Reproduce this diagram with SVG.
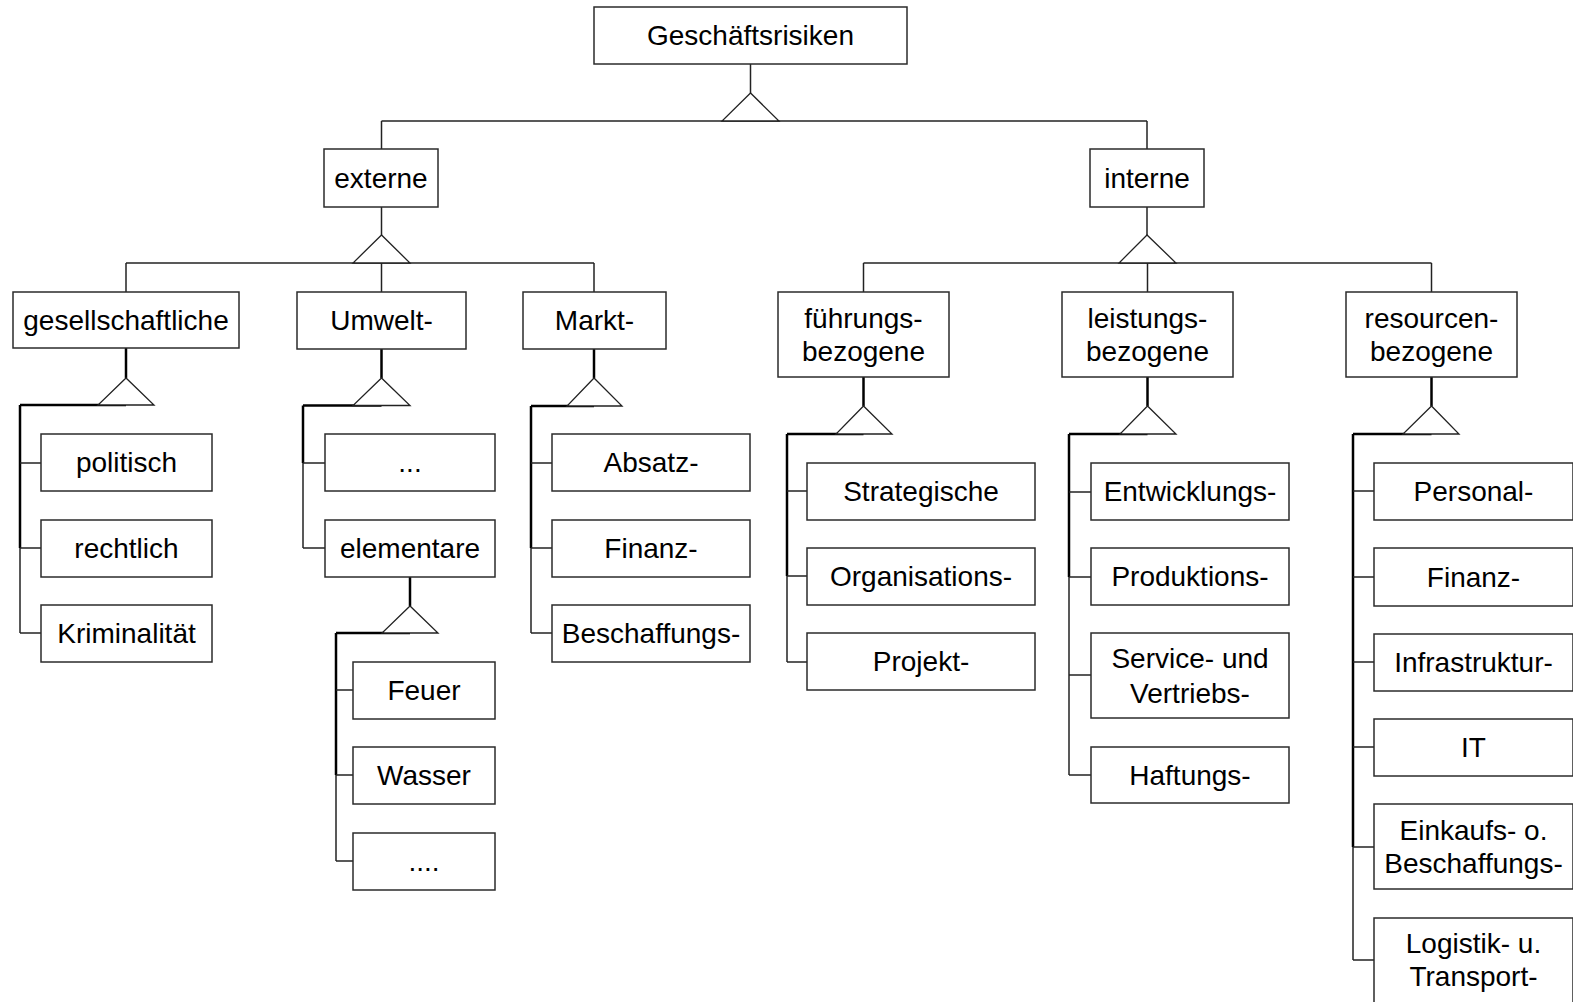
<svg xmlns="http://www.w3.org/2000/svg" width="1573" height="1002" viewBox="0 0 1573 1002">
  <style>
    .box { fill: #ffffff; stroke: #2b2b2b; stroke-width: 1.5; }
    .lbl { font-family: "Liberation Sans", Arial, sans-serif; font-size: 28px; fill: #000000; text-anchor: middle; }
    .ln { stroke: #222222; stroke-width: 1.5; fill: none; }
    .thick { stroke: #000000; stroke-width: 2.5; fill: none; }
    .tri { fill: #ffffff; stroke: #222222; stroke-width: 1.3; stroke-linejoin: miter; }
  </style>
  <rect x="0" y="0" width="1573" height="1002" fill="#ffffff"/>

  <!-- connectors -->
  <g id="connectors">
    <!-- root to first level -->
    <line class="ln" x1="750.5" y1="64" x2="750.5" y2="93"/>
    <line class="ln" x1="381.5" y1="121" x2="1147" y2="121"/>
    <line class="ln" x1="381.5" y1="121" x2="381.5" y2="149"/>
    <line class="ln" x1="1147" y1="121" x2="1147" y2="149"/>
    <polygon class="tri" points="750.5,93 722,121 779,121"/>

    <!-- externe to second level -->
    <line class="ln" x1="381.5" y1="207" x2="381.5" y2="235"/>
    <line class="ln" x1="126" y1="263" x2="594" y2="263"/>
    <line class="ln" x1="126" y1="263" x2="126" y2="292"/>
    <line class="ln" x1="381.5" y1="263" x2="381.5" y2="292"/>
    <line class="ln" x1="594" y1="263" x2="594" y2="292"/>
    <polygon class="tri" points="381.5,235 353,263 410,263"/>

    <!-- interne to second level -->
    <line class="ln" x1="1147" y1="207" x2="1147" y2="235"/>
    <line class="ln" x1="863.5" y1="263" x2="1431.5" y2="263"/>
    <line class="ln" x1="863.5" y1="263" x2="863.5" y2="292"/>
    <line class="ln" x1="1147.5" y1="263" x2="1147.5" y2="292"/>
    <line class="ln" x1="1431.5" y1="263" x2="1431.5" y2="292"/>
    <polygon class="tri" points="1147,235 1119,263 1176,263"/>

    <!-- gesellschaftliche -->
    <line class="thick" x1="126" y1="348" x2="126" y2="378"/>
    <line class="thick" x1="20" y1="405" x2="126" y2="405"/>
    <line class="thick" x1="20" y1="405" x2="20" y2="548"/>
    <line class="ln" x1="20" y1="548" x2="20" y2="633"/>
    <line class="ln" x1="20" y1="463" x2="41" y2="463"/>
    <line class="ln" x1="20" y1="548" x2="41" y2="548"/>
    <line class="ln" x1="20" y1="633" x2="41" y2="633"/>
    <polygon class="tri" points="126,378 98,405 154,405"/>

    <!-- Umwelt -->
    <line class="thick" x1="381.5" y1="349" x2="381.5" y2="378"/>
    <line class="thick" x1="303" y1="405.5" x2="381.5" y2="405.5"/>
    <line class="thick" x1="303" y1="405.5" x2="303" y2="463"/>
    <line class="ln" x1="303" y1="463" x2="303" y2="548"/>
    <line class="ln" x1="303" y1="463" x2="325" y2="463"/>
    <line class="ln" x1="303" y1="548" x2="325" y2="548"/>
    <polygon class="tri" points="381.5,378 353,405.5 410,405.5"/>

    <!-- elementare -->
    <line class="thick" x1="410" y1="577" x2="410" y2="606"/>
    <line class="thick" x1="336" y1="633" x2="410" y2="633"/>
    <line class="thick" x1="336" y1="633" x2="336" y2="775"/>
    <line class="ln" x1="336" y1="775" x2="336" y2="861"/>
    <line class="ln" x1="336" y1="690" x2="353" y2="690"/>
    <line class="ln" x1="336" y1="775" x2="353" y2="775"/>
    <line class="ln" x1="336" y1="861" x2="353" y2="861"/>
    <polygon class="tri" points="410,606 382,633 438,633"/>

    <!-- Markt -->
    <line class="thick" x1="594" y1="349" x2="594" y2="378"/>
    <line class="thick" x1="531" y1="406" x2="594" y2="406"/>
    <line class="thick" x1="531" y1="406" x2="531" y2="548"/>
    <line class="ln" x1="531" y1="548" x2="531" y2="633"/>
    <line class="ln" x1="531" y1="463" x2="552" y2="463"/>
    <line class="ln" x1="531" y1="548" x2="552" y2="548"/>
    <line class="ln" x1="531" y1="633" x2="552" y2="633"/>
    <polygon class="tri" points="594,378 567,406 622,406"/>

    <!-- führungsbezogene -->
    <line class="thick" x1="863.5" y1="377" x2="863.5" y2="406"/>
    <line class="thick" x1="787" y1="434" x2="863.5" y2="434"/>
    <line class="thick" x1="787" y1="434" x2="787" y2="576"/>
    <line class="ln" x1="787" y1="576" x2="787" y2="662"/>
    <line class="ln" x1="787" y1="491" x2="807" y2="491"/>
    <line class="ln" x1="787" y1="576" x2="807" y2="576"/>
    <line class="ln" x1="787" y1="662" x2="807" y2="662"/>
    <polygon class="tri" points="863.5,406 836,434 892,434"/>

    <!-- leistungsbezogene -->
    <line class="thick" x1="1147.5" y1="377" x2="1147.5" y2="406"/>
    <line class="thick" x1="1069" y1="434" x2="1147.5" y2="434"/>
    <line class="thick" x1="1069" y1="434" x2="1069" y2="577"/>
    <line class="ln" x1="1069" y1="577" x2="1069" y2="775"/>
    <line class="ln" x1="1069" y1="492" x2="1091" y2="492"/>
    <line class="ln" x1="1069" y1="577" x2="1091" y2="577"/>
    <line class="ln" x1="1069" y1="675" x2="1091" y2="675"/>
    <line class="ln" x1="1069" y1="775" x2="1091" y2="775"/>
    <polygon class="tri" points="1147.5,406 1120,434 1176,434"/>

    <!-- resourcenbezogene -->
    <line class="thick" x1="1431.5" y1="377" x2="1431.5" y2="406"/>
    <line class="thick" x1="1353" y1="434" x2="1431.5" y2="434"/>
    <line class="thick" x1="1353" y1="434" x2="1353" y2="847"/>
    <line class="ln" x1="1353" y1="847" x2="1353" y2="960"/>
    <line class="ln" x1="1353" y1="491" x2="1374" y2="491"/>
    <line class="ln" x1="1353" y1="577" x2="1374" y2="577"/>
    <line class="ln" x1="1353" y1="662" x2="1374" y2="662"/>
    <line class="ln" x1="1353" y1="747" x2="1374" y2="747"/>
    <line class="ln" x1="1353" y1="847" x2="1374" y2="847"/>
    <line class="ln" x1="1353" y1="960" x2="1374" y2="960"/>
    <polygon class="tri" points="1431.5,406 1403,434 1459,434"/>
  </g>

  <!-- root -->
  <g id="geschaeftsrisiken"><rect class="box" x="594" y="7" width="313" height="57"/><text class="lbl" x="750.5" y="45">Geschäftsrisiken</text></g>

  <!-- first level -->
  <g id="externe"><rect class="box" x="324" y="149" width="114" height="58"/><text class="lbl" x="381" y="188">externe</text></g>
  <g id="interne"><rect class="box" x="1090" y="149" width="114" height="58"/><text class="lbl" x="1147" y="188">interne</text></g>

  <!-- externe branch -->
  <g id="gesellschaftliche"><rect class="box" x="13" y="292" width="226" height="56"/><text class="lbl" x="126" y="330">gesellschaftliche</text></g>
  <g id="umwelt"><rect class="box" x="297" y="292" width="169" height="57"/><text class="lbl" x="381.5" y="330">Umwelt-</text></g>
  <g id="markt"><rect class="box" x="523" y="292" width="143" height="57"/><text class="lbl" x="594.5" y="330">Markt-</text></g>

  <g id="politisch"><rect class="box" x="41" y="434" width="171" height="57"/><text class="lbl" x="126.5" y="472">politisch</text></g>
  <g id="rechtlich"><rect class="box" x="41" y="520" width="171" height="57"/><text class="lbl" x="126.5" y="558">rechtlich</text></g>
  <g id="kriminalitaet"><rect class="box" x="41" y="605" width="171" height="57"/><text class="lbl" x="126.5" y="643">Kriminalität</text></g>

  <g id="umwelt-dots"><rect class="box" x="325" y="434" width="170" height="57"/><text class="lbl" x="410" y="472">...</text></g>
  <g id="elementare"><rect class="box" x="325" y="520" width="170" height="57"/><text class="lbl" x="410" y="558">elementare</text></g>

  <g id="feuer"><rect class="box" x="353" y="662" width="142" height="57"/><text class="lbl" x="424" y="700">Feuer</text></g>
  <g id="wasser"><rect class="box" x="353" y="747" width="142" height="57"/><text class="lbl" x="424" y="785">Wasser</text></g>
  <g id="elementar-dots"><rect class="box" x="353" y="833" width="142" height="57"/><text class="lbl" x="424" y="871">....</text></g>

  <g id="absatz"><rect class="box" x="552" y="434" width="198" height="57"/><text class="lbl" x="651" y="472">Absatz-</text></g>
  <g id="finanz-markt"><rect class="box" x="552" y="520" width="198" height="57"/><text class="lbl" x="651" y="558">Finanz-</text></g>
  <g id="beschaffung-markt"><rect class="box" x="552" y="605" width="198" height="57"/><text class="lbl" x="651" y="643">Beschaffungs-</text></g>

  <!-- interne branch -->
  <g id="fuehrungsbezogene"><rect class="box" x="778" y="292" width="171" height="85"/><text class="lbl" x="863.5" y="328">führungs-</text><text class="lbl" x="863.5" y="361">bezogene</text></g>
  <g id="leistungsbezogene"><rect class="box" x="1062" y="292" width="171" height="85"/><text class="lbl" x="1147.5" y="328">leistungs-</text><text class="lbl" x="1147.5" y="361">bezogene</text></g>
  <g id="resourcenbezogene"><rect class="box" x="1346" y="292" width="171" height="85"/><text class="lbl" x="1431.5" y="328">resourcen-</text><text class="lbl" x="1431.5" y="361">bezogene</text></g>

  <g id="strategische"><rect class="box" x="807" y="463" width="228" height="57"/><text class="lbl" x="921" y="501">Strategische</text></g>
  <g id="organisation"><rect class="box" x="807" y="548" width="228" height="57"/><text class="lbl" x="921" y="586">Organisations-</text></g>
  <g id="projekt"><rect class="box" x="807" y="633" width="228" height="57"/><text class="lbl" x="921" y="671">Projekt-</text></g>

  <g id="entwicklung"><rect class="box" x="1091" y="463" width="198" height="57"/><text class="lbl" x="1190" y="501">Entwicklungs-</text></g>
  <g id="produktion"><rect class="box" x="1091" y="548" width="198" height="57"/><text class="lbl" x="1190" y="586">Produktions-</text></g>
  <g id="service-vertrieb"><rect class="box" x="1091" y="633" width="198" height="85"/><text class="lbl" x="1190" y="668">Service- und</text><text class="lbl" x="1190" y="703">Vertriebs-</text></g>
  <g id="haftung"><rect class="box" x="1091" y="747" width="198" height="56"/><text class="lbl" x="1190" y="785">Haftungs-</text></g>

  <g id="personal"><rect class="box" x="1374" y="463" width="199" height="57"/><text class="lbl" x="1473.5" y="501">Personal-</text></g>
  <g id="finanz-res"><rect class="box" x="1374" y="548" width="199" height="58"/><text class="lbl" x="1473.5" y="587">Finanz-</text></g>
  <g id="infrastruktur"><rect class="box" x="1374" y="634" width="199" height="57"/><text class="lbl" x="1473.5" y="672">Infrastruktur-</text></g>
  <g id="it"><rect class="box" x="1374" y="719" width="199" height="57"/><text class="lbl" x="1473.5" y="757">IT</text></g>
  <g id="einkauf"><rect class="box" x="1374" y="804" width="199" height="85"/><text class="lbl" x="1473.5" y="840">Einkaufs- o.</text><text class="lbl" x="1473.5" y="873">Beschaffungs-</text></g>
  <g id="logistik"><rect class="box" x="1374" y="918" width="199" height="86"/><text class="lbl" x="1473.5" y="953">Logistik- u.</text><text class="lbl" x="1473.5" y="986">Transport-</text></g>
</svg>
